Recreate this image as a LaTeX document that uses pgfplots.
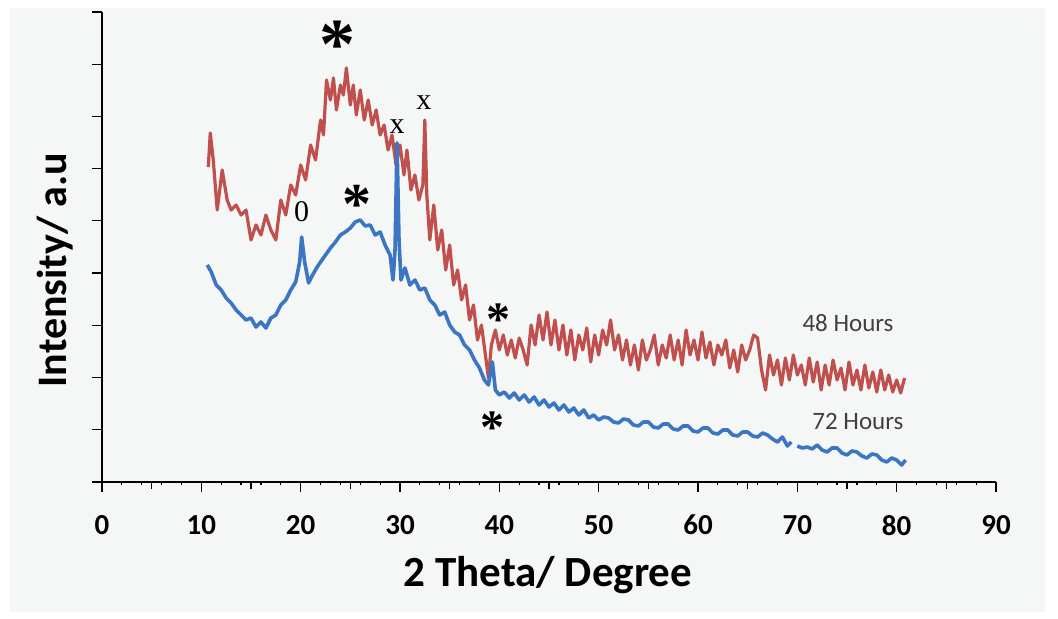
\documentclass[border=0pt]{standalone}
\usepackage{pgfplots}
\pgfplotsset{compat=1.18}
\usepackage{fontspec}
\setmainfont{Carlito}
\newfontfamily\serif{Liberation Serif}

\definecolor{bgc}{RGB}{245,246,246}
\definecolor{redc}{RGB}{192,80,77}
\definecolor{bluec}{RGB}{58,118,196}
\definecolor{txtc}{RGB}{64,64,64}

\begin{document}
\begin{tikzpicture}
% page and panel background (1 px = 0.5pt, origin at axis corner)
\fill[white] (-51pt,-68.5pt) rectangle (478pt,241pt);
\fill[bgc] (-46pt,-65pt) rectangle (471.5pt,237pt);
\begin{axis}[
  at={(0,0)}, anchor=south west,
  scale only axis, width=447pt, height=235pt,
  xmin=0, xmax=90, ymin=0, ymax=470,
  axis lines=left,
  axis line style={-, line width=0.9pt},
  clip=false,
  xtick={0,10,...,90},
  extra x ticks={5,15,...,85},
  extra x tick labels={},
  extra x tick style={major tick length=3.5pt},
  minor x tick num=4,
  ytick={0,52.2,104.4,156.7,208.9,261.1,313.3,365.6,417.8,470},
  yticklabels={},
  minor y tick num=4,
  tick align=outside,
  major tick length=5pt,
  minor tick length=1.5pt,
  tick style={black, line width=0.6pt},
  /pgf/number format/assume math mode=true,
  xticklabel style={font=\bfseries\fontsize{14.5}{14.5}\selectfont, yshift=-8pt},
  xlabel={2 Theta/ Degree},
  ylabel={Intensity/ a.u},
  every axis x label/.style={at={(axis description cs:0.4989,-0.198)}, anchor=center,
    font=\bfseries\fontsize{21.5}{21.5}\selectfont},
  every axis y label/.style={at={(axis description cs:-0.0526,0.451)}, anchor=center, rotate=90,
    font=\bfseries\fontsize{21}{21}\selectfont},
  unbounded coords=jump,
]
% 48 Hours
\addplot[redc, line width=1.6pt, line join=round] coordinates {
(10.7,315) (10.9,349) (11.2,322) (11.6,272) (12.1,312) (12.6,282) (13.0,272) (13.5,277)
(14.0,267) (14.5,272) (15.0,242) (15.5,257) (16.0,247) (16.5,267) (17.0,252) (17.5,242)
(18.0,282) (18.5,267) (19.0,297) (19.5,287) (20.0,317) (20.5,302) (21.0,337) (21.5,322)
(22.0,362) (22.3,347) (22.6,402) (23.0,382) (23.3,404) (23.6,372) (24.0,397) (24.3,387)
(24.6,414) (25.0,377) (25.3,397) (25.6,367) (26.0,392) (26.4,362) (26.8,382) (27.2,357)
(27.6,372) (28.0,347) (28.4,357) (28.8,332) (29.2,347) (29.6,317) (30.0,337) (30.4,307)
(30.7,332) (31.1,292) (31.5,307) (31.9,282) (32.3,297) (32.5,362) (32.7,287) (33.0,242)
(33.4,277) (33.8,232) (34.2,252) (34.6,212) (35.0,237) (35.4,197) (35.8,212) (36.2,182)
(36.6,197) (37.0,162) (37.4,177) (37.8,142) (38.2,157) (38.6,127) (38.9,104) (39.2,137)
(39.6,152) (40.0,132) (40.4,147) (40.8,127) (41.2,142) (41.6,124) (42.0,144) (42.4,132)
(42.8,117) (43.2,157) (43.6,137) (44.0,167) (44.4,142) (44.8,170) (45.2,137) (45.6,162)
(46.0,132) (46.4,157) (46.8,127) (47.2,152) (47.6,122) (48.0,147) (48.4,132) (48.8,154)
(49.2,120) (49.6,147) (50.0,127) (50.4,152) (50.8,137) (51.2,162) (51.6,132) (52.0,147)
(52.4,122) (52.8,142) (53.2,117) (53.6,137) (54.0,112) (54.4,142) (54.8,122) (55.2,132)
(55.6,147) (56.0,117) (56.4,137) (56.8,124) (57.2,147) (57.6,122) (58.0,142) (58.4,117)
(58.8,152) (59.2,127) (59.6,142) (60.0,122) (60.4,150) (60.8,124) (61.2,140) (61.6,117)
(62.0,137) (62.4,127) (62.8,142) (63.2,114) (63.6,132) (64.0,110) (64.4,137) (64.8,122)
(65.2,132) (65.6,147) (66.0,144) (66.4,112) (66.8,92) (67.2,127) (67.6,107) (68.0,122)
(68.4,97) (68.8,124) (69.2,102) (69.6,127) (70.0,107) (70.4,117) (70.8,97) (71.2,124)
(71.6,100) (72.0,120) (72.4,92) (72.8,117) (73.2,97) (73.6,122) (74.0,102) (74.4,114)
(74.8,92) (75.2,120) (75.6,97) (76.0,112) (76.4,92) (76.8,117) (77.2,94) (77.6,110)
(78.0,90) (78.4,112) (78.8,92) (79.2,107) (79.6,90) (80.0,102) (80.4,89) (80.8,104)
};
% 72 Hours
\addplot[bluec, line width=1.8pt, line join=round] coordinates {
(10.6,217) (11.0,210) (11.5,197) (12.0,192) (12.5,184) (13.0,179) (13.5,172) (14.0,167)
(14.5,162) (15.0,164) (15.5,155) (16.0,160) (16.5,154) (17.0,164) (17.5,167) (18.0,177)
(18.5,182) (19.0,192) (19.5,200) (19.9,220) (20.1,245) (20.4,220) (20.8,199) (21.2,207)
(21.6,214) (22.0,220) (22.5,227) (23.0,234) (23.5,240) (24.0,247) (24.5,250) (25.0,254)
(25.5,260) (26.0,262) (26.5,256) (27.0,257) (27.5,247) (28.0,250) (28.5,237) (29.0,227)
(29.3,202) (29.5,232) (29.7,339) (29.9,242) (30.1,202) (30.5,214) (31.0,197) (31.5,202)
(32.0,192) (32.5,194) (33.0,182) (33.5,177) (34.0,167) (34.5,170) (35.0,157) (35.5,150)
(36.0,147) (36.5,137) (37.0,132) (37.5,122) (38.0,114) (38.5,102) (38.9,97) (39.3,120)
(39.6,92) (40.0,87) (40.5,90) (41.0,84) (41.5,89) (42.0,82) (42.5,87) (43.0,80)
(43.5,85) (44.0,77) (44.5,82) (45.0,75) (45.5,79) (46.0,72) (46.5,77) (47.0,70)
(47.5,74) (48.0,67) (48.5,72) (49.0,64) (49.5,67) (50.0,62) (50.5,65) (51.0,64)
(51.5,60) (52.0,59) (52.5,63) (53.0,62) (53.5,57) (54.0,56) (54.5,60) (55.0,60)
(55.5,55) (56.0,54) (56.5,58) (57.0,58) (57.5,53) (58.0,52) (58.5,56) (59.0,56)
(59.5,51) (60.0,50) (60.5,54) (61.0,54) (61.5,49) (62.0,48) (62.5,52) (63.0,52)
(63.5,47) (64.0,46) (64.5,50) (65.0,50) (65.5,46) (66.0,45) (66.5,49) (67.0,47)
(67.5,43) (68.0,40) (68.5,45) (69.0,36) (69.4,40) (69.6,nan) (70.0,36) (70.5,34)
(71.0,35) (71.5,33) (72.0,37) (72.5,32) (73.0,30) (73.5,34) (74.0,34) (74.5,29)
(75.0,27) (75.5,31) (76.0,30) (76.5,26) (77.0,24) (77.5,28) (78.0,27) (78.5,22)
(79.0,20) (79.5,24) (80.0,22) (80.5,17) (80.9,22)
};
% peak markers
\node[font=\serif\bfseries\fontsize{36}{36}\selectfont, anchor=base] at (axis cs:23.7,413) {*};
\node[font=\serif\bfseries\fontsize{29}{29}\selectfont, anchor=base] at (axis cs:25.7,258) {*};
\node[font=\serif\bfseries\fontsize{24}{24}\selectfont, anchor=base] at (axis cs:39.9,146) {*};
\node[font=\serif\bfseries\fontsize{24}{24}\selectfont, anchor=base] at (axis cs:39.3,38) {*};
\node[font=\serif\fontsize{15}{15}\selectfont] at (axis cs:20.1,270) {0};
\node[font=\serif\fontsize{15}{15}\selectfont] at (axis cs:29.7,355) {x};
\node[font=\serif\fontsize{15}{15}\selectfont] at (axis cs:32.4,379) {x};
\node[font=\fontsize{12.5}{12.5}\selectfont, text=txtc] at (axis cs:75.1,159) {48 Hours};
\node[font=\fontsize{12.5}{12.5}\selectfont, text=txtc] at (axis cs:76.1,61) {72 Hours};
\end{axis}
\end{tikzpicture}
\end{document}
